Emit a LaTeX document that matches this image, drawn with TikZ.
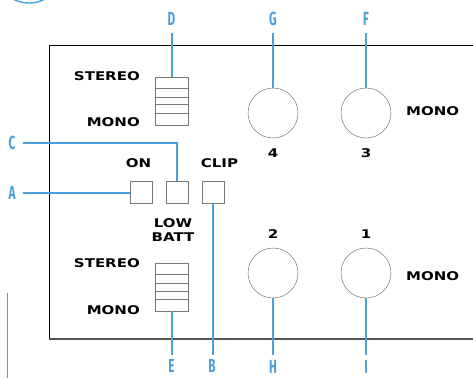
\documentclass[tikz,border=0pt]{standalone}
\usepackage{fontspec}
\newfontfamily\lblfont[FakeStretch=0.62]{Fira Sans Bold}
\newfontfamily\panfont[FakeStretch=1.25]{DejaVu Sans Bold}
\definecolor{callout}{RGB}{74,160,220}
\definecolor{edge}{RGB}{120,120,120}
\begin{document}
\begin{tikzpicture}[x=1pt,y=-1pt,
  lbl/.style={font=\lblfont\fontsize{19}{19}\selectfont, text=callout, inner sep=0pt},
  pan/.style={font=\panfont\fontsize{12}{13}\selectfont, inner sep=0pt},
  lead/.style={draw=callout, line width=1.1pt},
  knob/.style={circle, draw=edge, line width=0.5pt, minimum size=50pt, inner sep=0pt},
  sq/.style={rectangle, draw=edge, line width=0.6pt, minimum width=22pt, minimum height=22pt, inner sep=0pt},
  slider/.style={rectangle, draw=edge, line width=0.6pt, minimum width=33pt, minimum height=48pt, inner sep=0pt}]
\useasboundingbox (0,0) rectangle (473,378);
% top-left partial blue circle and left blue line
\begin{scope}
\clip (0,0) rectangle (473,378);
\draw[callout, line width=1.4pt] (29,-31) circle[radius=34pt];
\end{scope}
\draw[callout, line width=1.2pt] (7.5,293) -- (7.5,378);
% panel
\draw[black, line width=1.1pt] (480,45.5) -- (49.5,45.5) -- (49.5,339);
\draw[edge!70!black, line width=1.8pt] (49,339) -- (480,339);
% sliders
\node[slider] (D) at (171.5,101) {};
\foreach \yy in {88,97,104,113} \draw[edge, line width=0.6pt] (155,\yy) -- (188,\yy);
\node[slider] (E) at (171.5,287) {};
\foreach \yy in {274,283,291,299} \draw[edge, line width=0.6pt] (155,\yy) -- (188,\yy);
% squares
\node[sq] (A) at (141.5,192) {};
\node[sq] (C) at (177,192) {};
\node[sq] (B) at (213,192) {};
% knobs
\node[knob] (G) at (273,113) {};
\node[knob] (F) at (366,113) {};
\node[knob] (H) at (273,273) {};
\node[knob] (I) at (366,273) {};
% panel texts
\node[pan, anchor=east] at (140,76) {STEREO};
\node[pan, anchor=east] at (140,122) {MONO};
\node[pan] at (138.5,163) {ON};
\node[pan] at (219.5,163) {CLIP};
\node[pan] at (173,223) {LOW};
\node[pan] at (173,237.5) {BATT};
\node[pan, anchor=east] at (140,263) {STEREO};
\node[pan, anchor=east] at (140,310) {MONO};
\node[pan] at (273,153) {4};
\node[pan] at (366,153) {3};
\node[pan] at (273,234) {2};
\node[pan] at (366,234) {1};
\node[pan, anchor=west] at (406,111) {MONO};
\node[pan, anchor=west] at (406,276) {MONO};
% callout letters
\node[lbl] (lD) at (171.5,19) {D};
\node[lbl] (lG) at (273,19) {G};
\node[lbl] (lF) at (366,19) {F};
\node[lbl] (lC) at (12,143) {C};
\node[lbl] (lA) at (12,193) {A};
\node[lbl] (lE) at (171.5,366) {E};
\node[lbl] (lB) at (212,366) {B};
\node[lbl] (lH) at (273,367) {H};
\node[lbl] (lI) at (366,367) {I};
% leader end coordinates
\coordinate (eD) at (172,33);
\coordinate (eG) at (273,33);
\coordinate (eF) at (366,33);
\coordinate (eC) at (23,143);
\coordinate (eA) at (23,193);
\coordinate (eE) at (172,355);
\coordinate (eB) at (213,355);
\coordinate (eH) at (273,355);
\coordinate (eI) at (366,355);
% leaders
\draw[lead] (eD) -- (D.north -| eD);
\draw[lead] (eG) -- (G.north);
\draw[lead] (eF) -- (F.north);
\draw[lead] (eC) -- (eC -| C.north) -- (C.north);
\draw[lead] (eA) -- (A.west |- eA);
\draw[lead] (eE) -- (E.south -| eE);
\draw[lead] (eB) -- (B.south);
\draw[lead] (eH) -- (H.south);
\draw[lead] (eI) -- (I.south);
\end{tikzpicture}
\end{document}
